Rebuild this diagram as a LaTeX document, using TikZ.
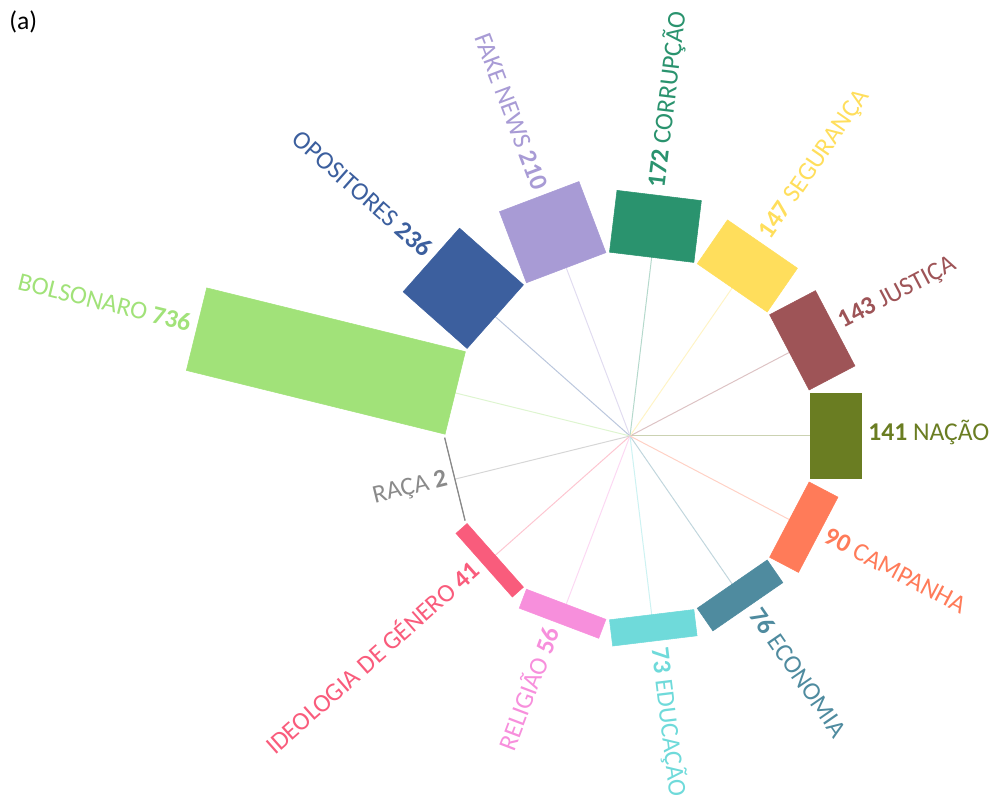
\documentclass[tikz,border=0pt]{standalone}
\usepackage{fontspec}
\setmainfont{Carlito}

\definecolor{colNacao}{HTML}{6A7D22}
\definecolor{colJustica}{HTML}{9E5457}
\definecolor{colSeguranca}{HTML}{FFDE5C}
\definecolor{colCorrupcao}{HTML}{2A936E}
\definecolor{colFake}{HTML}{A89BD5}
\definecolor{colOpositores}{HTML}{3C5F9E}
\definecolor{colBolsonaro}{HTML}{A1E279}
\definecolor{colRaca}{HTML}{8A8A8A}
\definecolor{colGenero}{HTML}{F95C7C}
\definecolor{colReligiao}{HTML}{F78FDC}
\definecolor{colEducacao}{HTML}{6FDADA}
\definecolor{colEconomia}{HTML}{4F8B9F}
\definecolor{colCampanha}{HTML}{FF7B59}

\tikzset{
    barlabel/.style={inner sep=0pt, text height=0.64em, text depth=0pt,
        font=\fontsize{19.2}{21}\selectfont},
    spoke/.style={line width=0.75}
}

\begin{document}
\begin{tikzpicture}[x=0.75pt, y=0.75pt]
    % Frame (centre of the wheel at the origin)
    \useasboundingbox (-630,-362) rectangle (363,436);
    \coordinate (c) at (0,0);
    \node[barlabel, anchor=west] (tag) at (-621,411) {\color{black}(a)};

    % Bars and spokes (13 slots, inner radius 180, 0.362 per unit)
    \foreach \k/\val/\col in {0/141/colNacao, 1/143/colJustica, 2/147/colSeguranca,
        3/172/colCorrupcao, 4/210/colFake, 5/236/colOpositores, 6/736/colBolsonaro,
        7/2/colRaca, 8/41/colGenero, 9/56/colReligiao, 10/73/colEducacao,
        11/76/colEconomia, 12/90/colCampanha} {
        \pgfmathsetmacro\ang{\k*360/13}
        \pgfmathsetmacro\len{\val*0.362}
        \coordinate (in\k) at (\ang:180);
        \draw[spoke, \col!35] (c) -- (in\k);
        \begin{scope}[rotate=\ang]
            \filldraw[\col, line width=0.4] (180,-42.5) rectangle (180+\len,42.5);
        \end{scope}
    }

    % Labels on the right half
    \foreach \k/\val/\name/\col in {0/141/NAÇÃO/colNacao, 1/143/JUSTIÇA/colJustica,
        2/147/SEGURANÇA/colSeguranca, 3/172/CORRUPÇÃO/colCorrupcao,
        10/73/EDUCAÇÃO/colEducacao, 11/76/ECONOMIA/colEconomia,
        12/90/CAMPANHA/colCampanha} {
        \pgfmathsetmacro\ang{\k*360/13}
        \pgfmathsetmacro\r{187+\val*0.362}
        \node[barlabel, text=\col, anchor=west, rotate=\ang] (lbl\k) at (\ang:\r)
            {\textbf{\val} \name};
    }

    % Labels on the left half
    \foreach \k/\val/\name/\col in {4/210/FAKE NEWS/colFake,
        5/236/OPOSITORES/colOpositores, 6/736/BOLSONARO/colBolsonaro,
        7/2/RAÇA/colRaca, 8/41/IDEOLOGIA DE GÉNERO/colGenero,
        9/56/RELIGIÃO/colReligiao} {
        \pgfmathsetmacro\ang{\k*360/13}
        \pgfmathsetmacro\r{187+\val*0.362}
        \node[barlabel, text=\col, anchor=east, rotate=\ang-180] (lbl\k) at (\ang:\r)
            {\name{} \textbf{\val}};
    }
\end{tikzpicture}
\end{document}
